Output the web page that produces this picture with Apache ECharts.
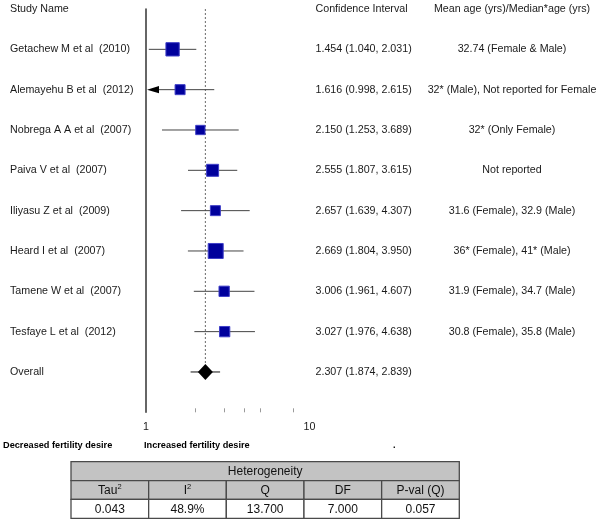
<!DOCTYPE html>
<html><head><meta charset="utf-8">
<script src="https://cdn.jsdelivr.net/npm/echarts@6/dist/echarts.min.js"></script>
<style>html,body{margin:0;padding:0;background:#fff}#c{width:600px;height:520px}</style>
</head><body><div id="c"></div>
<script>
// ---------- data ----------
const headers = ['Study Name', 'Confidence Interval', 'Mean age (yrs)/Median*age (yrs)'];
const studies = ['Getachew M et al  (2010)', 'Alemayehu B et al  (2012)', 'Nobrega A A et al  (2007)',
  'Paiva V et al  (2007)', 'Iliyasu Z et al  (2009)', 'Heard I et al  (2007)',
  'Tamene W et al  (2007)', 'Tesfaye L et al  (2012)'];
const estimates = [1.454, 1.616, 2.150, 2.555, 2.657, 2.669, 3.006, 3.027];
const lowerCI   = [1.040, 0.998, 1.253, 1.807, 1.639, 1.804, 1.961, 1.976];
const upperCI   = [2.031, 2.615, 3.689, 3.615, 4.307, 3.950, 4.607, 4.638];
const weights   = [17.0, 9.6, 8.3, 13.8, 9.6, 21.6, 10.2, 10.2];
const ages = ['32.74 (Female & Male)', '32* (Male), Not reported for Female', '32* (Only Female)',
  'Not reported', '31.6 (Female), 32.9 (Male)', '36* (Female), 41* (Male)',
  '31.9 (Female), 34.7 (Male)', '30.8 (Female), 35.8 (Male)'];
const overallLabel = 'Overall';
const overallEst = 2.307, overallLower = 1.874, overallUpper = 2.839;
const xTickLabels = [1, 10];
const xMinorTicks = [2, 3, 4, 5, 8];
const footerLabels = ['Decreased fertility desire', 'Increased fertility desire', '.'];
const hetTitle = 'Heterogeneity';
const hetColumns = ['Tau^2', 'I^2', 'Q', 'DF', 'P-val (Q)'];
const hetValues = ['0.043', '48.9%', '13.700', '7.000', '0.057'];

// ---------- build ----------
const FONT = '"Liberation Sans", Arial, sans-serif';
const fmt = v => v.toFixed(3);
const nameRows = [headers[0]].concat(studies, [overallLabel, '']);
const ciRows = [headers[1]].concat(studies.map((s, i) => fmt(estimates[i]) + ' (' + fmt(lowerCI[i]) + ', ' + fmt(upperCI[i]) + ')'),
  [fmt(overallEst) + ' (' + fmt(overallLower) + ', ' + fmt(overallUpper) + ')', '']);
const ageRows = [headers[2]].concat(ages, ['', '']);
const overallRow = studies.length + 1;
const xMin = xTickLabels[0];

const ciData = studies.map((s, i) => [lowerCI[i], upperCI[i], i + 1, 0]);
ciData.push([overallLower, overallUpper, overallRow, 1]);

const cells = [{col: 0, row: 0, text: hetTitle, kind: 'title'}];
hetColumns.forEach((t, i) => cells.push({col: i, row: 1, text: t, kind: 'head'}));
hetValues.forEach((t, i) => cells.push({col: i, row: 2, text: t, kind: 'val'}));
const supMarkup = t => t.replace(/\^(\w+)/g, '{sup|$1}');

const labelBase = {interval: 0, fontSize: 10.7, fontFamily: FONT, color: '#1a1a1a'};
const catY = {type: 'category', gridIndex: 0, inverse: true, boundaryGap: false,
  axisTick: {show: false}, splitLine: {show: false}};

const chart = echarts.init(document.getElementById('c'), null, {renderer: 'canvas'});
chart.setOption({
  animation: false,
  backgroundColor: '#fff',
  grid: [
    {left: 146, top: 9, width: 163.5, height: 403.3, containLabel: false, outerBoundsMode: 'none'},
    {left: 71, top: 461.7, width: 388.3, height: 56.6, containLabel: false, outerBoundsMode: 'none'}
  ],
  xAxis: [
    {type: 'log', logBase: 10, gridIndex: 0, min: xTickLabels[0], max: xTickLabels[xTickLabels.length - 1],
      axisLine: {show: false}, splitLine: {show: false},
      axisTick: {show: true, inside: true, length: 4, customValues: xMinorTicks, lineStyle: {color: '#9a9a9a', width: 1}},
      axisLabel: {customValues: xTickLabels, margin: 9, fontSize: 10.7, fontFamily: FONT, color: '#1a1a1a'}},
    {type: 'category', gridIndex: 1, data: hetColumns.map((c, i) => i), show: false}
  ],
  yAxis: [
    Object.assign({}, catY, {data: nameRows,
      axisLine: {show: true, onZero: false, lineStyle: {color: '#333', width: 1.5}},
      axisLabel: Object.assign({}, labelBase, {align: 'left', margin: 136})}),
    Object.assign({}, catY, {data: ciRows, position: 'right', axisLine: {show: false},
      axisLabel: Object.assign({}, labelBase, {align: 'left', margin: 6})}),
    Object.assign({}, catY, {data: ageRows, position: 'right', axisLine: {show: false},
      axisLabel: Object.assign({}, labelBase, {align: 'center', margin: 202.5})}),
    {type: 'category', gridIndex: 1, data: [0, 1, 2], inverse: true, show: false}
  ],
  series: [
    {type: 'custom', name: 'ref', xAxisIndex: 0, yAxisIndex: 0, z: 1,
      data: [[overallEst, 0, overallRow]], encode: {x: 0, y: [1, 2]},
      renderItem: (params, api) => {
        const a = api.coord([api.value(0), api.value(1)]);
        const b = api.coord([api.value(0), api.value(2)]);
        return {type: 'line', shape: {x1: a[0], y1: a[1], x2: b[0], y2: b[1]},
          style: {stroke: '#6a6a6a', lineWidth: 1, lineDash: [2, 2]}};
      }},
    {type: 'custom', name: 'ci', xAxisIndex: 0, yAxisIndex: 0, z: 2,
      data: ciData, encode: {x: [0, 1], y: 2},
      renderItem: (params, api) => {
        const lo = api.value(0), hi = api.value(1), row = api.value(2), ov = api.value(3);
        const color = ov ? '#111' : '#444';
        const pHi = api.coord([hi, row]);
        const children = [];
        let startX;
        if (lo < xMin) {
          const tip = api.coord([xMin, row]);
          const tx = tip[0] + 1;
          children.push({type: 'polygon', shape: {points: [[tx, tip[1]], [tx + 12, tip[1] - 3.6], [tx + 12, tip[1] + 3.6]]},
            style: {fill: '#000'}});
          startX = tx + 12;
        } else {
          startX = api.coord([lo, row])[0];
        }
        children.push({type: 'line', shape: {x1: startX, y1: pHi[1], x2: pHi[0], y2: pHi[1]},
          style: {stroke: color, lineWidth: 1}});
        return {type: 'group', children};
      }},
    {type: 'scatter', name: 'studies', xAxisIndex: 0, yAxisIndex: 0, z: 3,
      data: estimates.map((e, i) => [e, i + 1]),
      symbol: 'rect',
      symbolSize: (v, p) => 3.23 * Math.sqrt(weights[p.dataIndex]),
      itemStyle: {color: '#00009c', borderColor: '#4040c8', borderWidth: 1, opacity: 1}},
    {type: 'scatter', name: 'overall', xAxisIndex: 0, yAxisIndex: 0, z: 3,
      data: [[overallEst, overallRow]], symbol: 'diamond', symbolSize: [15, 16],
      itemStyle: {color: '#000', opacity: 1}},
    {type: 'custom', name: 'heterogeneity', xAxisIndex: 1, yAxisIndex: 3,
      data: cells.map(c => [c.col, c.row]), encode: {x: 0, y: 1},
      renderItem: (params, api) => {
        const c = cells[params.dataIndex];
        const p = api.coord([api.value(0), api.value(1)]);
        const s = api.size([1, 1]);
        const x = p[0] - s[0] / 2, y = p[1] - s[1] / 2, h = s[1];
        let w = s[0];
        if (c.kind === 'title') {
          const p2 = api.coord([hetColumns.length - 1, api.value(1)]);
          w = p2[0] + s[0] / 2 - x;
        }
        return {type: 'group', children: [
          {type: 'rect', shape: {x, y, width: w, height: h},
            style: {fill: c.kind === 'val' ? '#ffffff' : '#c3c3c3', stroke: '#4a4a4a', lineWidth: 1.3}},
          {type: 'text', style: {x: x + w / 2, y: y + h / 2 + 0.5, text: supMarkup(c.text),
            align: 'center', verticalAlign: 'middle', fontSize: 12, fontFamily: FONT, fill: '#111',
            rich: {sup: {fontSize: 7.5, fontFamily: FONT, fill: '#111', padding: [0, 0, 7, 0]}}}}
        ]};
      }}
  ],
  graphic: [
    {type: 'text', left: 3, top: 441, style: {text: footerLabels[0], font: 'bold 9.2px ' + FONT, fill: '#000'}},
    {type: 'text', left: 144, top: 441, style: {text: footerLabels[1], font: 'bold 9.2px ' + FONT, fill: '#000'}},
    {type: 'text', left: 393, top: 441, style: {text: footerLabels[2], font: 'bold 9.2px ' + FONT, fill: '#000'}}
  ]
});
</script></body></html>
